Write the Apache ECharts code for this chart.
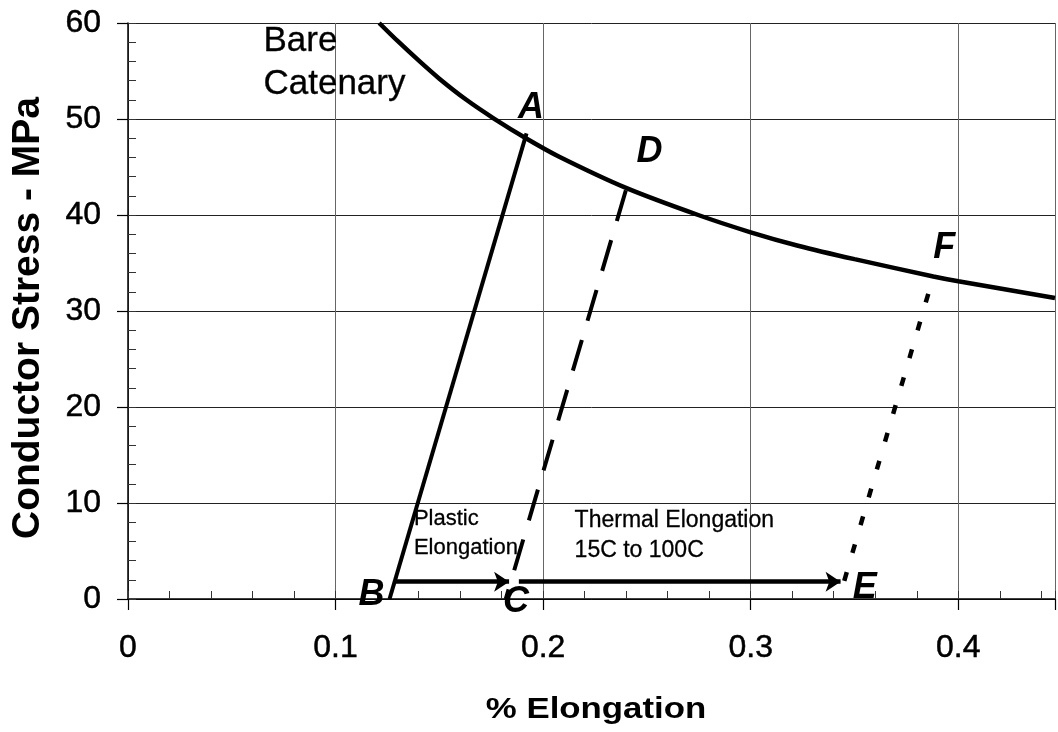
<!DOCTYPE html>
<html>
<head>
<meta charset="utf-8">
<style>
  html, body { margin: 0; padding: 0; background: #fff; }
  #chart { width: 1058px; height: 732px; }
</style>
<script src="https://cdn.jsdelivr.net/npm/echarts@6/dist/echarts.min.js"></script>
</head>
<body>
<div id="chart"></div>
<script>
// Bare catenary stress vs elongation curve
const catenaryX = [0.121, 0.130, 0.140, 0.150, 0.163, 0.1763, 0.1917, 0.2075, 0.2402, 0.2747, 0.300, 0.3228, 0.350, 0.388, 0.400, 0.4466];
const catenaryY = [60.0, 58.1, 56.1, 54.2, 52.0, 50.05, 48.0, 46.1, 42.8, 40.0, 38.2, 36.8, 35.4, 33.6, 33.1, 31.35];

// Elastic lines (elongation %, stress MPa)
const lineBA = [[0.126, 0], [0.1920, 48.5]];   // initial loading, solid
const lineCD = [[0.182, 0], [0.2407, 43.2]];   // after plastic elongation, dashed
const lineEF = [[0.3425, 0], [0.3880, 33.6]];  // at 100C, dotted

// Elongation arrows
const arrowPlastic = [[0.1283, 1.8], [0.1836, 1.8]];
const arrowThermal = [[0.1883, 1.8], [0.3433, 1.8]];

// Point letters: [text, x, y]
const pointLetters = [
  ['A', 0.1941, 51.1],
  ['D', 0.2512, 46.6],
  ['F', 0.3933, 36.6],
  ['B', 0.1173, 0.4],
  ['C', 0.1869, -0.3],
  ['E', 0.3549, 1.1]
];

// Annotation texts: [text, x, y, fontSize, lineHeight]
const notes = [
  ['Bare\nCatenary', 0.0655, 55.8, 35, 43],
  ['Plastic\nElongation', 0.138, 6.8, 22, 29],
  ['Thermal Elongation\n15C to 100C', 0.2154, 6.55, 23, 30]
];

// Axis titles
const xTitle = '% Elongation';
const yTitle = 'Conductor Stress - MPa';

// Axis settings
const xMin = 0, xMax = 0.4466, xStep = 0.1, xMinorStep = 0.02;
const yMin = 0, yMax = 60, yStep = 10, yMinorStep = 2;

const FONT = '"Liberation Sans", Arial, Helvetica, sans-serif';
const chart = echarts.init(document.getElementById('chart'), null, { renderer: 'canvas' });

function xTickLabel(v) {
  const k = v / xStep;
  if (Math.abs(k - Math.round(k)) > 1e-6) return '';
  return v === 0 ? '0' : v.toFixed(1);
}

// slight outline so text strokes render as heavy as the axis lines
const INK = { textBorderColor: '#000', textBorderWidth: 0.5 };

const option = {
  animation: false,
  backgroundColor: '#ffffff',
  grid: { left: 128, right: 0, top: 23, bottom: 133, containLabel: false },
  graphic: [
    {
      type: 'text', silent: true, x: 596, y: 710, scaleX: 1.16,
      style: { text: xTitle, font: 'bold 30px ' + FONT, fill: '#000', align: 'center', verticalAlign: 'middle' }
    },
    {
      type: 'text', silent: true, x: 28, y: 318, rotation: Math.PI / 2,
      style: { text: yTitle, font: 'bold 39px ' + FONT, fill: '#000', align: 'center', verticalAlign: 'middle' }
    }
  ],
  xAxis: [
    {
      type: 'value', min: xMin, max: xMax, interval: xStep,
      axisLine: { show: true, onZero: false, lineStyle: { color: '#000', width: 1.5 } },
      axisTick: { show: true, inside: false, length: 11, lineStyle: { color: '#000', width: 1.2 } },
      axisLabel: Object.assign({ fontFamily: FONT, fontSize: 32, color: '#000', margin: 33, formatter: xTickLabel }, INK),
      splitLine: { show: true, lineStyle: { color: '#666', width: 1 } }
    },
    {
      type: 'value', min: xMin, max: xMax, interval: xMinorStep, position: 'bottom',
      axisLine: { show: false, onZero: false },
      axisTick: { show: true, inside: true, length: 8, lineStyle: { color: '#333', width: 1 } },
      axisLabel: { show: false },
      splitLine: { show: false }
    }
  ],
  yAxis: [
    {
      type: 'value', min: yMin, max: yMax, interval: yStep,
      axisLine: { show: true, onZero: false, lineStyle: { color: '#000', width: 1.5 } },
      axisTick: { show: true, inside: false, length: 11, lineStyle: { color: '#000', width: 1.2 } },
      axisLabel: Object.assign({ fontFamily: FONT, fontSize: 32, color: '#000', margin: 27 }, INK),
      splitLine: { show: true, lineStyle: { color: '#222', width: 1 } }
    },
    {
      type: 'value', min: yMin, max: yMax, interval: yMinorStep, position: 'left',
      axisLine: { show: false, onZero: false },
      axisTick: { show: true, inside: true, length: 8, lineStyle: { color: '#333', width: 1 } },
      axisLabel: { show: false },
      splitLine: { show: false }
    }
  ],
  series: [
    {
      name: 'Bare Catenary', type: 'line', smooth: 0.3, symbol: 'none', silent: true,
      data: catenaryX.map((x, i) => [x, catenaryY[i]]),
      lineStyle: { color: '#000', width: 4.5 },
      clip: true
    },
    {
      name: 'B-A', type: 'line', symbol: 'none', silent: true,
      data: lineBA,
      lineStyle: { color: '#000', width: 4 },
      markLine: {
        silent: true, symbol: ['none', 'arrow'], symbolSize: 15, precision: 4,
        label: { show: false },
        lineStyle: { color: '#000', width: 4.5, type: 'solid' },
        data: [
          [{ coord: arrowPlastic[0] }, { coord: arrowPlastic[1] }],
          [{ coord: arrowThermal[0] }, { coord: arrowThermal[1] }]
        ]
      }
    },
    {
      name: 'C-D', type: 'line', symbol: 'none', silent: true,
      data: lineCD,
      lineStyle: { color: '#000', width: 4, type: [32, 20], dashOffset: 22, cap: 'butt' }
    },
    {
      name: 'E-F', type: 'line', symbol: 'none', silent: true,
      data: lineEF,
      lineStyle: { color: '#000', width: 4.5, type: [9, 20], dashOffset: 10, cap: 'butt' }
    },
    {
      name: 'letters', type: 'scatter', silent: true, clip: false,
      symbolSize: 1, itemStyle: { color: 'rgba(0,0,0,0)', opacity: 1 },
      data: pointLetters.map(p => ({ value: [p[1], p[2]], name: p[0] })),
      label: {
        show: true, position: 'inside', formatter: '{b}',
        fontFamily: FONT, fontSize: 36, fontWeight: 'bold', fontStyle: 'italic', color: '#000'
      }
    },
    {
      name: 'notes', type: 'scatter', silent: true, clip: false,
      symbolSize: 1, itemStyle: { color: 'rgba(0,0,0,0)', opacity: 1 },
      data: notes.map(n => ({
        value: [n[1], n[2]], name: n[0],
        label: { fontSize: n[3], lineHeight: n[4] }
      })),
      label: {
        show: true, position: [0, 0], align: 'left', verticalAlign: 'middle', formatter: '{b}',
        fontFamily: FONT, color: '#000', textBorderColor: '#000', textBorderWidth: 0.3
      }
    }
  ]
};

chart.setOption(option);
</script>
</body>
</html>
